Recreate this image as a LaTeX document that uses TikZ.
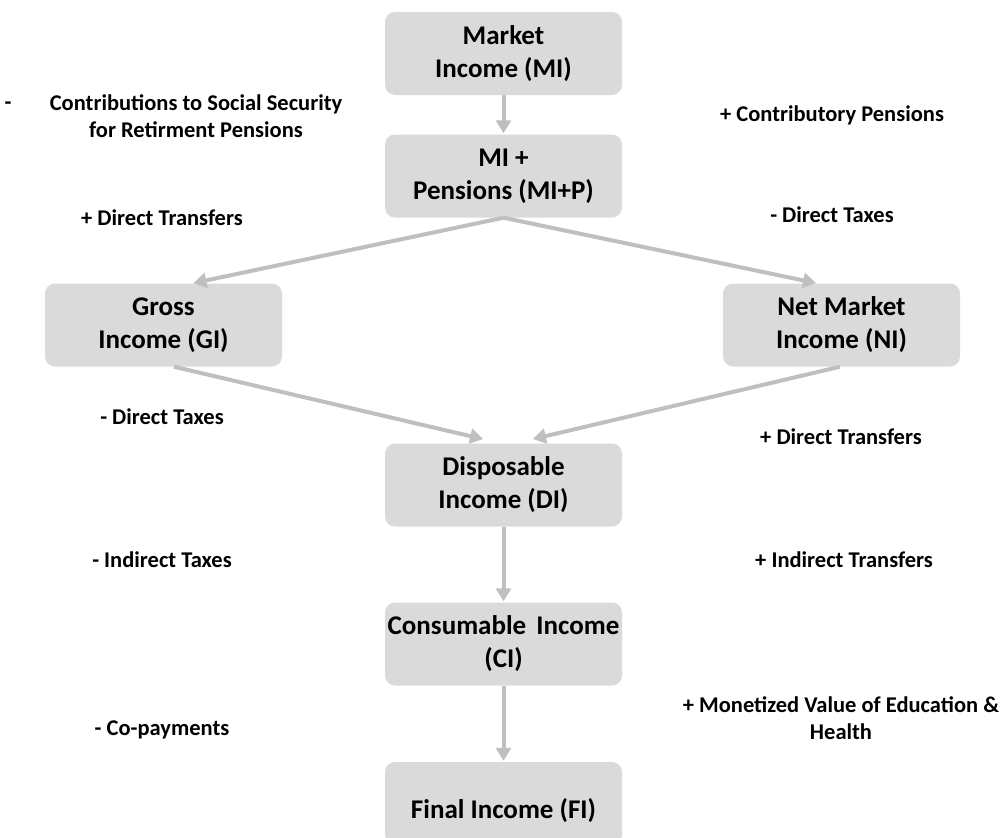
\documentclass[tikz,border=0pt]{standalone}
\usepackage{fontspec}
\setmainfont{Carlito}
\usetikzlibrary{arrows.meta}
\definecolor{boxgray}{HTML}{DADADA}
\definecolor{arrowgray}{HTML}{BFBFBF}
\tikzset{
  incbox/.style={draw=none, fill=boxgray, rounded corners=10pt, minimum width=237pt, minimum height=83pt,
    align=center, inner sep=0pt, font=\fontsize{27}{33}\selectfont\bfseries},
  lbl/.style={align=center, inner sep=0pt, font=\fontsize{22.5}{27}\selectfont\bfseries},
  flow/.style={draw=arrowgray, line width=4pt, -{Triangle[width=15pt,length=13pt]}, shorten >=1pt}
}
\begin{document}
\begin{tikzpicture}[x=1pt,y=-1pt]
\useasboundingbox (0,0) rectangle (1005,838);
% boxes
\node[incbox] (MI)  at (503.5,53.5) {Market\\Income (MI)};
\node[incbox] (MIP) at (503.5,176) {MI +\\Pensions (MI+P)};
\node[incbox] (GI)  at (163.5,325) {Gross\\Income (GI)};
\node[incbox] (NI)  at (841.5,325) {Net Market\\Income (NI)};
\node[incbox] (DI)  at (503.5,485) {Disposable\\Income (DI)};
\node[incbox] (CI)  at (503.5,644) {Consumable\hspace{0.15em} Income\\(CI)};
\node[incbox] (FI) at (503.5,803.5) {\raisebox{-15pt}[0pt][0pt]{Final Income (FI)}};
% arrows
\draw[flow] (MI.south) -- (MIP.north);
\draw[flow] (MIP.south) -- ([xshift=29pt]GI.north);
\draw[flow] (MIP.south) -- ([xshift=-24.5pt]NI.north);
\draw[flow] ([xshift=10.5pt]GI.south) -- ([xshift=-19.5pt,yshift=4pt]DI.north);
\draw[flow] ([xshift=-1.5pt]NI.south) -- ([xshift=28.5pt,yshift=4pt]DI.north);
\draw[flow] (DI.south) -- (CI.north);
\draw[flow] (CI.south) -- (FI.north);
% labels
\node[lbl] (dash) at (8,106) {-};
\node[lbl] (l1) at (196,116.5) {Contributions to Social Security\\for Retirment Pensions};
\node[lbl] (r1) at (832,115) {+ Contributory Pensions};
\node[lbl] (l2) at (162,218) {+ Direct Transfers};
\node[lbl] (r2) at (832,215) {- Direct Taxes};
\node[lbl] (l3) at (162,417) {- Direct Taxes};
\node[lbl] (r3) at (841,437) {+ Direct Transfers};
\node[lbl] (l4) at (162,560) {- Indirect Taxes};
\node[lbl] (r4) at (844,560) {+ Indirect Transfers};
\node[lbl] (l5) at (162,730) {- Co-payments};
\node[lbl] (r5) at (841,718.5) {+ Monetized Value of Education \&\\Health};
\end{tikzpicture}
\end{document}
